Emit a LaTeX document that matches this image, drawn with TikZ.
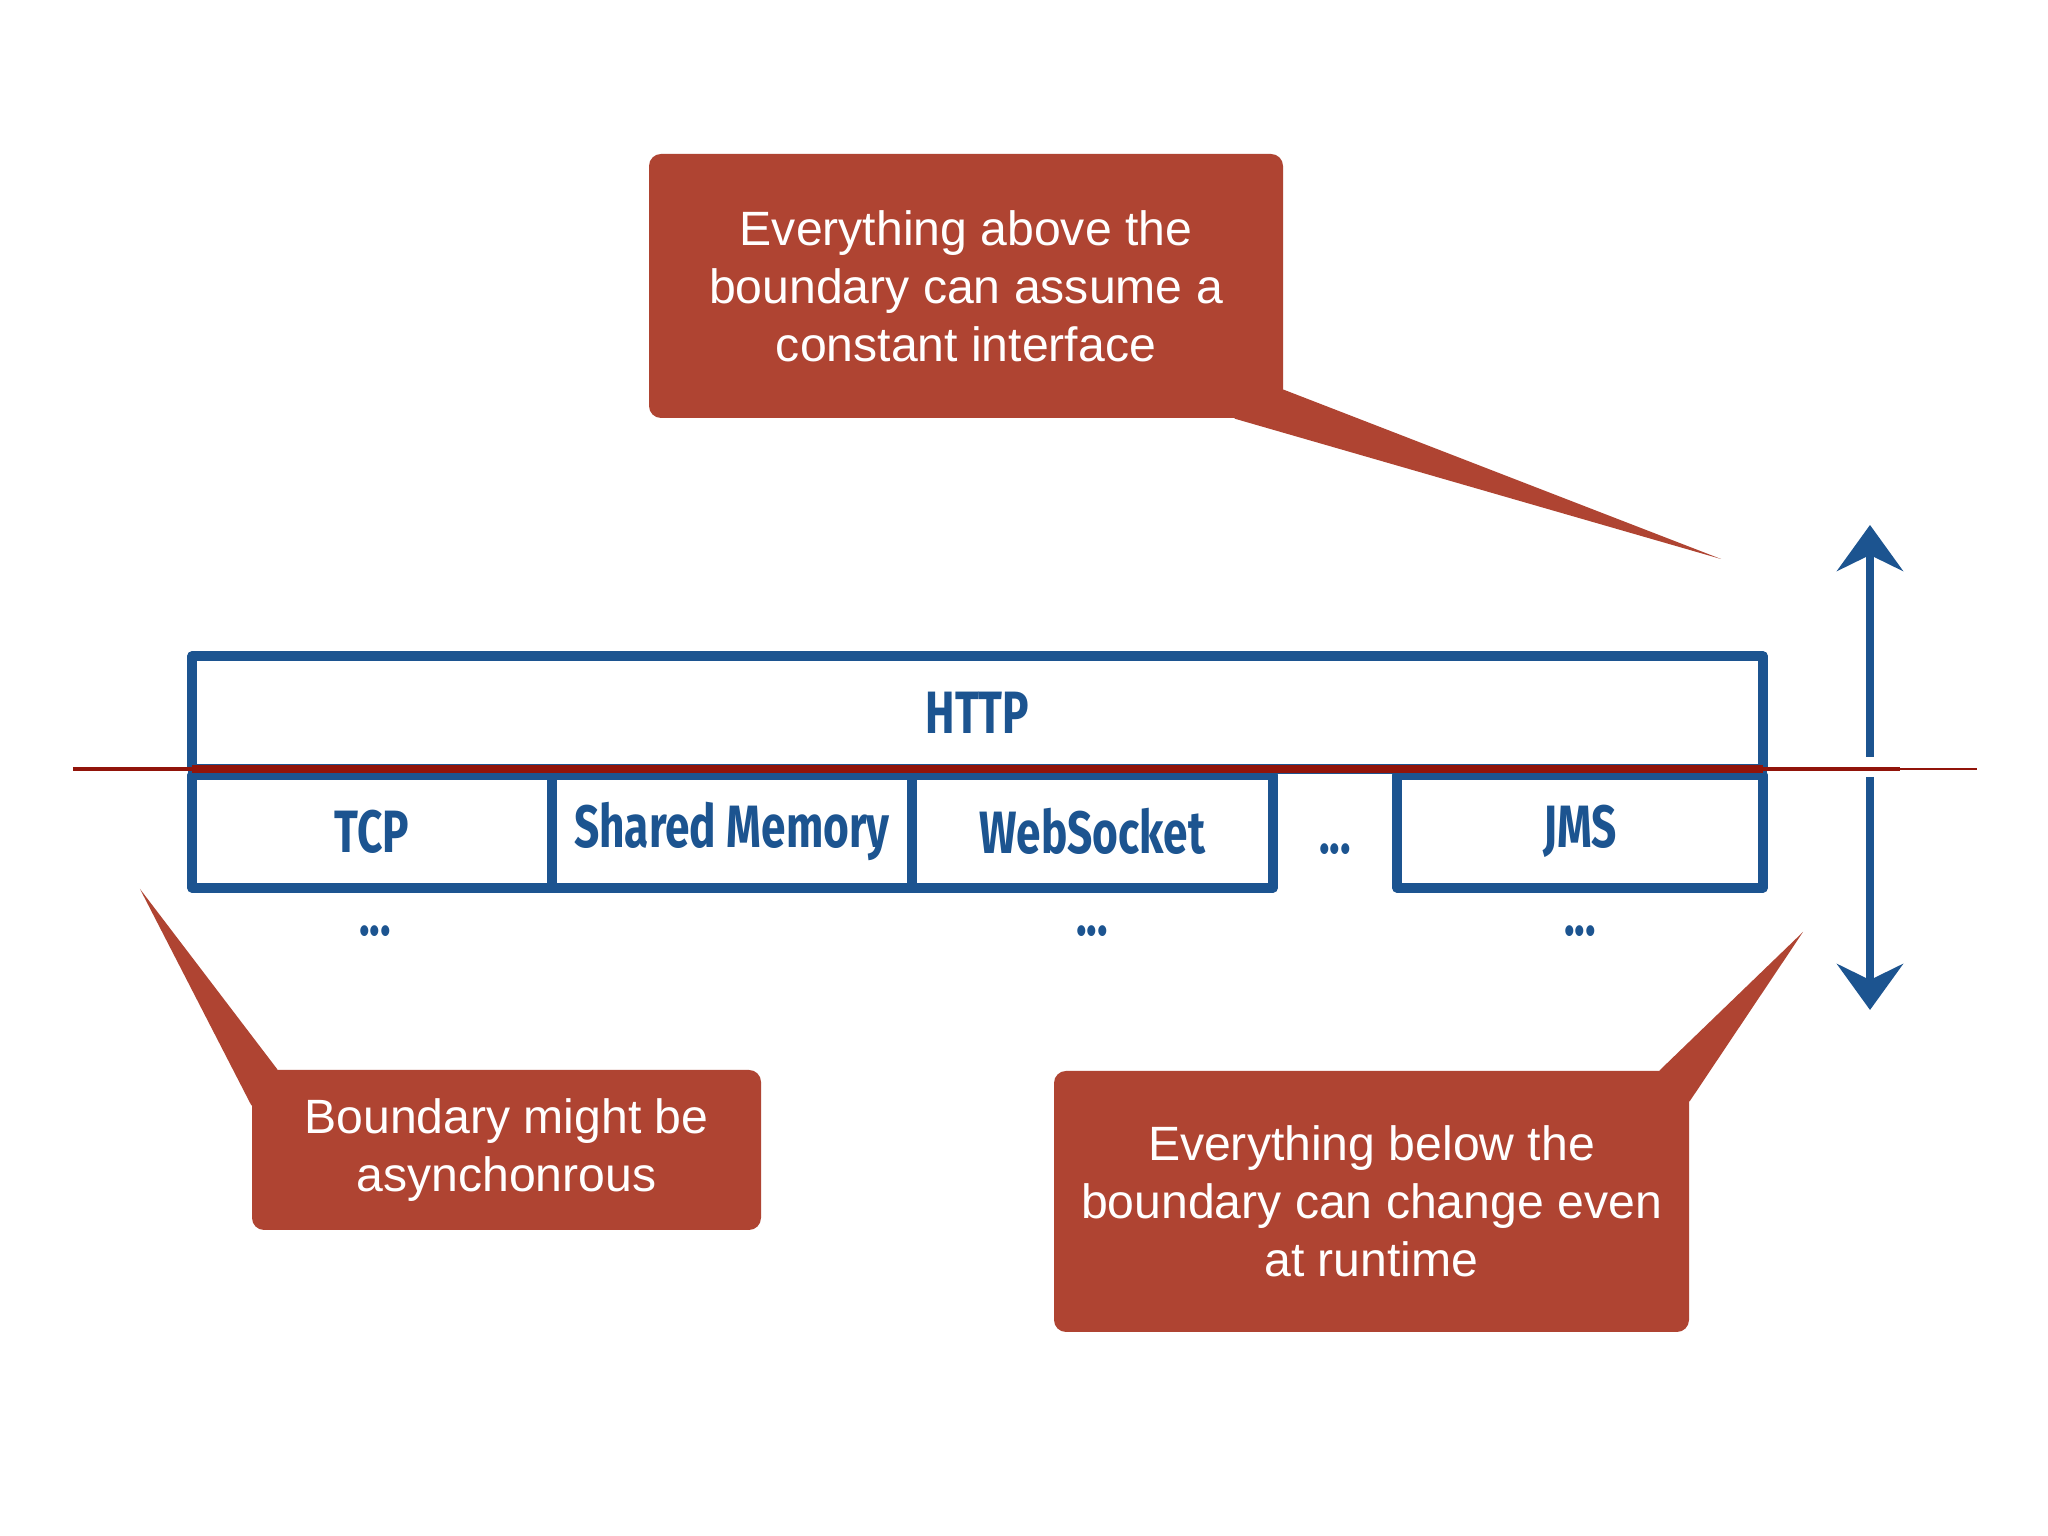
\documentclass[tikz,border=0pt]{standalone}
\usepackage{fontspec}
\setmainfont{Liberation Sans}
\newfontfamily\handfont[FakeStretch=0.74]{Fira Sans}
\usetikzlibrary{arrows.meta}
\definecolor{layerblue}{RGB}{28,84,144}
\definecolor{notered}{RGB}{175,68,50}
\definecolor{linered}{RGB}{145,20,10}

\begin{document}
\begin{tikzpicture}[every node/.style={font=\fontsize{13.7}{16.5}\selectfont}]
  \tikzset{
    layer/.style={draw=layerblue,line width=2.6pt,line join=round,inner sep=0pt,minimum height=1.13cm,text=layerblue,font=\handfont\bfseries\fontsize{17}{20}\selectfont},
    dots/.style={text=layerblue,inner sep=0pt,font=\handfont\bfseries\fontsize{17}{20}\selectfont},
    note/.style={fill=notered,rounded corners=1.2mm,text=white,align=center,inner sep=0pt},
    tail/.style={fill=notered},
    updown/.style={draw=layerblue,line width=2.4pt,-{Stealth[length=4.6mm,width=6.6mm,inset=1.6mm]}}
  }
  \useasboundingbox[fill=white] (0,0) rectangle (20.48,15.36);
  \node[layer,minimum width=15.71cm] (http) at (9.775,8.235) {HTTP};
  \foreach \name/\x/\w/\txt in {tcp/3.72/3.60/TCP,shm/7.32/3.60/Shared Memory,ws/10.925/3.61/WebSocket,jms/15.80/3.66/JMS}
    \node[layer,minimum width=\w cm] (\name) at (\x,7.045) {\txt};
  \node[dots] (more) at (13.35,6.87) {...};
  \foreach \name/\x in {tcpmore/3.75,wsmore/10.92,jmsmore/15.80}
    \node[dots] (\name) at (\x,6.05) {...};
  \coordinate (bl) at (0.73,7.67);
  \coordinate (b0) at (1.92,7.67);
  \coordinate (b1) at (17.63,7.67);
  \coordinate (b2) at (19.0,7.67);
  \coordinate (br) at (19.77,7.67);
  \draw[linered,line width=1.2pt] (bl) -- (b0);
  \draw[linered,line width=2.4pt] (b0) -- (b1);
  \draw[linered,line width=1.4pt] (b1) -- (b2);
  \draw[linered,line width=0.6pt] (b2) -- (br);
  \coordinate (uptip) at (18.70,10.11);
  \coordinate (upfoot) at (18.70,7.79);
  \coordinate (downfoot) at (18.70,7.59);
  \coordinate (downtip) at (18.70,5.26);
  \draw[updown] (upfoot) -- (uptip);
  \draw[updown] (downfoot) -- (downtip);
  \node[note,minimum width=6.34cm,minimum height=2.64cm] (above) at (9.66,12.50) {Everything above the\\boundary can assume a\\constant interface};
  \coordinate (abovetip) at (17.21,9.77);
  \fill[tail] (abovetip) -- ([yshift=2.9mm]above.south east) -- ([shift={(-1mm,2.9mm)}]above.south east)
    -- ([shift={(-4.9mm,1mm)}]above.south east) -- ([xshift=-4.9mm]above.south east) -- cycle;
  \node[note,minimum width=5.09cm,minimum height=1.60cm] (async) at (5.065,3.86) {Boundary might be\\asynchonrous};
  \coordinate (asynctip) at (1.40,6.47);
  \fill[tail] (asynctip) -- ([xshift=2.6mm]async.north west) -- ([shift={(2.6mm,-1mm)}]async.north west)
    -- ([shift={(1mm,-3.6mm)}]async.north west) -- ([yshift=-3.6mm]async.north west) -- cycle;
  \node[note,minimum width=6.35cm,minimum height=2.61cm] (below) at (13.715,3.345) {Everything below the\\boundary can change even\\at runtime};
  \coordinate (belowtip) at (18.03,6.04);
  \fill[tail] (belowtip) -- ([xshift=-3.0mm]below.north east) -- ([shift={(-3.0mm,-1mm)}]below.north east)
    -- ([shift={(-1mm,-3.1mm)}]below.north east) -- ([yshift=-3.1mm]below.north east) -- cycle;
\end{tikzpicture}
\end{document}
